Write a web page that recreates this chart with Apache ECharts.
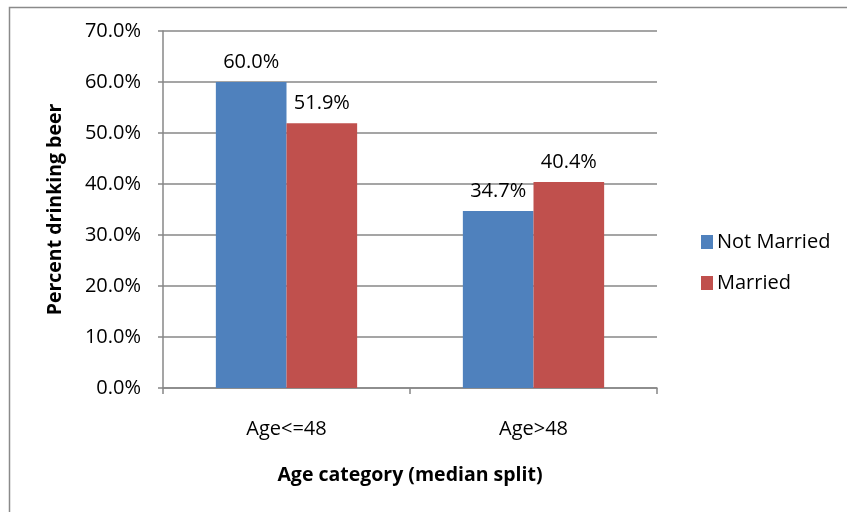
<!DOCTYPE html>
<html>
<head>
<meta charset="utf-8">
<script src="https://cdn.jsdelivr.net/npm/echarts@6/dist/echarts.min.js"></script>
<style>
  html, body { margin: 0; padding: 0; background: #fff; }
  #chart { width: 847px; height: 512px; }
</style>
</head>
<body>
<div id="chart"></div>
<script>
// Share of respondents drinking beer, by age group and marital status
const categories = ['Age<=48', 'Age>48'];
const notMarried = [60.0, 34.7];
const married = [51.9, 40.4];
const seriesNames = ['Not Married', 'Married'];
const yTicks = [0, 10, 20, 30, 40, 50, 60, 70];

const FONT = '"Open Sans", sans-serif';
const GRAY = '#878787';

const chart = echarts.init(document.getElementById('chart'), null, { renderer: 'canvas' });

const labelStyle = {
  show: true,
  position: 'top',
  distance: 10,
  color: '#000',
  fontFamily: FONT,
  fontSize: 20,
  formatter: p => p.value.toFixed(1) + '%'
};

chart.setOption({
  animation: false,
  backgroundColor: '#fff',
  textStyle: { fontFamily: FONT },
  graphic: [{
    type: 'rect',
    left: 7, top: 5,
    shape: { width: 900, height: 600 },
    style: { fill: 'none', stroke: '#8a8a8a', lineWidth: 1.5 },
    silent: true
  }],
  grid: { left: 163, right: 190, top: 31, bottom: 124 },
  legend: {
    orient: 'vertical',
    left: 696,
    top: 227,
    itemWidth: 12,
    itemHeight: 14,
    itemGap: 21,
    icon: 'rect',
    textStyle: { fontFamily: FONT, fontSize: 20, color: '#000', padding: [0, 0, 0, -1] },
    data: seriesNames
  },
  xAxis: {
    type: 'category',
    data: categories,
    name: 'Age category (median split)',
    nameLocation: 'middle',
    nameGap: 77,
    nameTextStyle: { fontFamily: FONT, fontSize: 19.5, fontWeight: 'bold', color: '#000' },
    axisLine: { lineStyle: { color: GRAY, width: 1.5 } },
    axisTick: { show: true, alignWithLabel: false, length: 6, lineStyle: { color: GRAY, width: 1.5 } },
    axisLabel: { fontFamily: FONT, fontSize: 20, color: '#000', margin: 31 }
  },
  yAxis: {
    type: 'value',
    min: yTicks[0],
    max: yTicks[yTicks.length - 1],
    interval: 10,
    name: 'Percent drinking beer',
    nameLocation: 'middle',
    nameGap: 98,
    nameTextStyle: { fontFamily: FONT, fontSize: 19.5, fontWeight: 'bold', color: '#000' },
    axisLine: { show: true, lineStyle: { color: GRAY, width: 1.5 } },
    axisTick: { show: true, length: 5, lineStyle: { color: GRAY, width: 1.5 } },
    axisLabel: { fontFamily: FONT, fontSize: 20, color: '#000', margin: 22, formatter: v => v.toFixed(1) + '%' },
    splitLine: { show: true, lineStyle: { color: GRAY, width: 1.5 } }
  },
  series: [
    {
      name: seriesNames[0],
      type: 'bar',
      data: notMarried,
      barWidth: '28.6%',
      barGap: '0%',
      itemStyle: { color: '#4f81bd' },
      label: labelStyle
    },
    {
      name: seriesNames[1],
      type: 'bar',
      data: married,
      barWidth: '28.6%',
      itemStyle: { color: '#c0504d' },
      label: labelStyle
    }
  ]
});
</script>
</body>
</html>
